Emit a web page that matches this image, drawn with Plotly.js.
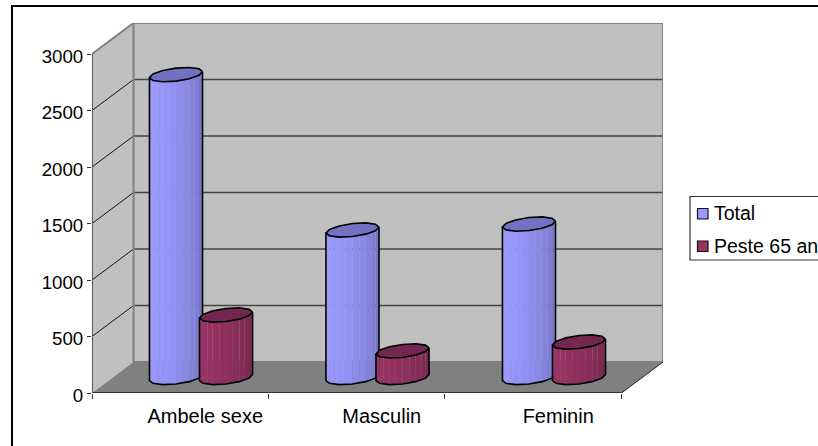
<!DOCTYPE html>
<html>
<head>
<meta charset="utf-8">
<script src="https://cdn.plot.ly/plotly-3.0.1.min.js"></script>
<style>html,body{margin:0;padding:0;background:#fff;overflow:hidden}#chart{width:818px;height:446px}</style>
</head>
<body>
<div id="chart"></div>
<script>
const categories = ['Ambele sexe', 'Masculin', 'Feminin'];
const seriesNames = ['Total', 'Peste 65 ani'];
const totalValues = [2680, 1305, 1358];
const peste65Values = [553, 235, 314];
const yTicks = [0, 500, 1000, 1500, 2000, 2500, 3000];

// plot frame in window pixels
const L = 92, R = 663, T = 23, B = 393;
const frontW = 529, frontH = 339, depthX = 41.5, depthY = 31;
const ux = 3 / frontW, uy = 3000 / frontH;      // data units per pixel
const xMin = -0.5, xMax = 2.5, yMax = 3000;
const dx = depthX * ux, dy = depthY * uy;
const px = x => (x - L) / (R - L), py = y => (B - y) / (B - T);

const traces = [];
function poly(xs, ys, fill, lineColor, lineWidth) {
  traces.push({
    x: xs, y: ys, type: 'scatter', mode: lineColor ? 'lines' : 'none',
    fill: fill ? 'toself' : 'none', fillcolor: fill || undefined,
    line: { color: lineColor || 'rgba(0,0,0,0)', width: lineWidth || 0 },
    hoverinfo: 'skip', showlegend: false, cliponaxis: false
  });
}

// walls and floor
poly([xMin + dx, xMax + dx, xMax + dx, xMin + dx, xMin + dx], [0 + dy, dy, yMax + dy, yMax + dy, dy], '#c0c0c0');
poly([xMin, xMin + dx, xMin + dx, xMin, xMin], [0, dy, yMax + dy, yMax, 0], '#c0c0c0');
poly([xMin, xMax, xMax + dx, xMin + dx, xMin], [0, 0, dy, dy, 0], '#808080');
// gridlines
yTicks.slice(1, -1).forEach(v => {
  poly([xMin, xMin + dx], [v, v + dy], null, '#111', 1);
  poly([xMin + dx, xMax + dx], [v + dy, v + dy], null, '#444', 1.3);
});
// wall outlines
poly([xMin, xMin + dx, xMax + dx, xMax + dx], [yMax, yMax + dy, yMax + dy, dy], null, '#808080', 2);
poly([xMin + dx, xMin + dx, xMax + dx], [yMax + dy, dy, dy], null, '#808080', 2);
poly([xMax, xMax + dx], [0, dy], null, '#222', 1);
// front axes
poly([xMin, xMin], [0, yMax], null, '#555', 2);
poly([xMin, xMax], [0, 0], null, '#333', 2);

// cylinders
const rx = 26.5, tilt = 3, ry = 6.5, nEll = 6, nStrip = 12;
const ex = (c, t) => c + rx * Math.cos(t) * ux;
const ey = (v, t) => v + (tilt * Math.cos(t) + ry * Math.sin(t)) * uy;   // t in (PI,2PI) is the front half

function mix(a, b, f) {
  const c = a.map((p, i) => Math.round(p + (b[i] - p) * f));
  return 'rgb(' + c.join(',') + ')';
}
function cylinder(center, value, light, dark, topFill) {
  const cy = dy / 2, c = center + dx / 2;
  for (let k = 0; k < nStrip; k++) {
    const t1 = Math.PI + k * Math.PI / nStrip, t2 = Math.PI + (k + 1) * Math.PI / nStrip;
    const f = k / (nStrip - 1);
    poly([ex(c, t1), ex(c, t2), ex(c, t2), ex(c, t1)],
         [ey(cy + value, t1), ey(cy + value, t2), ey(cy, t2), ey(cy, t1)],
         mix(light, dark, f * f));
  }
  const sx = [], sy = [];
  for (let k = 0; k <= nEll; k++) {
    const t = Math.PI + k * Math.PI / nEll;
    sx.push(ex(c, t)); sy.push(ey(cy, t));
  }
  poly([ex(c, Math.PI)].concat(sx, [ex(c, 0)]), [ey(cy + value, Math.PI)].concat(sy, [ey(cy + value, 0)]), null, '#000', 1.6);
  const ux2 = [], uy2 = [];
  for (let k = 0; k <= 2 * nEll; k++) {
    const t = k * Math.PI / nEll;
    ux2.push(ex(c, t)); uy2.push(ey(cy + value, t));
  }
  poly(ux2, uy2, topFill, '#000', 1.6);
}
const barOffset = 25 * ux;
categories.forEach((_, i) => {
  cylinder(i - barOffset, totalValues[i], [153, 153, 255], [112, 112, 190], '#7272c0');
  cylinder(i + barOffset, peste65Values[i], [153, 51, 102], [112, 37, 75], '#722650');
});

const family = '"Liberation Sans", Arial, sans-serif';
const shapes = [
  { type: 'line', xref: 'paper', yref: 'paper', x0: px(12), x1: px(12), y0: py(5), y1: py(446), line: { color: '#000', width: 2 } },
  { type: 'line', xref: 'paper', yref: 'paper', x0: px(11), x1: px(818), y0: py(6), y1: py(6), line: { color: '#000', width: 2 } },
  { type: 'rect', xref: 'paper', yref: 'paper', x0: px(690), x1: px(830), y0: py(196.5), y1: py(260), fillcolor: '#fff', line: { color: '#333', width: 1.2 } },
  { type: 'rect', xref: 'paper', yref: 'paper', x0: px(697.5), x1: px(708), y0: py(208.5), y1: py(219), fillcolor: '#9999ff', line: { color: '#111', width: 1.2 } },
  { type: 'rect', xref: 'paper', yref: 'paper', x0: px(697.5), x1: px(708), y0: py(241), y1: py(251.5), fillcolor: '#993366', line: { color: '#111', width: 1.2 } }
];
const annotations = seriesNames.map((name, i) => ({
  text: name, xref: 'paper', yref: 'paper', x: px(713.5), y: py(i ? 245.5 : 212.5),
  xanchor: 'left', yanchor: 'middle', showarrow: false, font: { family, size: 19.5, color: '#000' }, borderpad: 0
}));

Plotly.newPlot('chart', traces, {
  width: 818, height: 446,
  margin: { l: L, r: 818 - R, t: T, b: 446 - B, pad: 0 },
  paper_bgcolor: '#fff', plot_bgcolor: '#fff',
  showlegend: false, hovermode: false,
  shapes: shapes, annotations: annotations,
  xaxis: {
    range: [xMin, xMax + dx], tickmode: 'array', tickvals: [0, 1, 2], ticktext: categories,
    ticks: '', showgrid: false, zeroline: false, showline: false,
    tickfont: { family, size: 20, color: '#000' }, ticklabelstandoff: 9, ticklabelshift: 25,
    minor: { tickmode: 'array', tickvals: [-0.5, 0.5, 1.5, 2.5], ticks: 'outside', ticklen: 5, tickwidth: 1, tickcolor: '#333', showgrid: false }
  },
  yaxis: {
    range: [0, yMax + dy], tickmode: 'array', tickvals: yTicks, ticks: 'outside', ticklen: 4, tickwidth: 1, tickcolor: '#333',
    showgrid: false, zeroline: false, showline: false, tickfont: { family, size: 18.7, color: '#000' }, ticklabelshift: 2
  }
}, { displayModeBar: false, staticPlot: true });
</script>
</body>
</html>
